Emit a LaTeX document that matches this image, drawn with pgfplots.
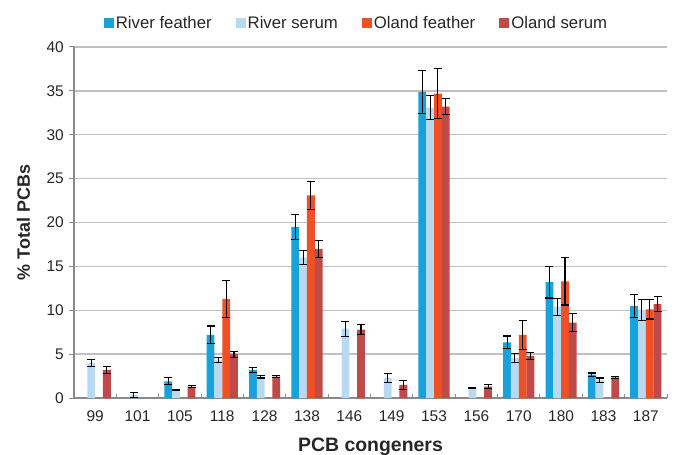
\documentclass[border=0pt]{standalone}
\usepackage{pgfplots}
\pgfplotsset{compat=1.18}
\usepackage{fontspec}
\setmainfont{Liberation Sans}
\definecolor{rf}{RGB}{23,162,220}
\definecolor{rs}{RGB}{183,218,240}
\definecolor{of}{RGB}{240,80,35}
\definecolor{os}{RGB}{192,74,72}
\definecolor{gridc}{RGB}{192,192,192}
\definecolor{axc}{RGB}{137,137,137}
\begin{document}
\begin{tikzpicture}
\begin{axis}[
  scale only axis, width=593bp, height=351bp,
  ybar=0pt, bar width=7.8bp,
  xmin=-0.5, xmax=13.5, ymin=0, ymax=40,
  xtick={0,...,13},
  xticklabels={99,101,105,118,128,138,146,149,153,156,170,180,183,187},
  minor xtick={-0.5,0.5,...,13.5},
  ytick={0,5,...,40},
  major x tick style={draw=none},
  minor tick length=4.5bp,
  minor x tick style={axc, line width=1bp, yshift=4.5bp},
  major tick length=5bp,
  tick align=outside,
  ytick style={axc, line width=1bp},
  ymajorgrids, grid style={gridc, line width=1.3bp},
  axis x line*=bottom, axis y line*=left,
  axis line style={axc, line width=1.2bp, -},
  /pgf/number format/assume math mode=true,
  tick label style={font=\fontsize{15.5}{18}\selectfont, text=black!85},
  yticklabel style={inner xsep=0pt, xshift=-5bp},
  xticklabel style={yshift=-4bp},
  xlabel={PCB congeners}, ylabel={\% Total PCBs},
  every axis x label/.style={at={([yshift=-53.5bp]axis description cs:0.5,0)}, anchor=base, font=\bfseries\fontsize{19.5}{21}\selectfont, text=black!85},
  every axis y label/.style={at={([xshift=-44bp]axis description cs:0,0.5)}, rotate=90, anchor=base, font=\bfseries\fontsize{18}{20}\selectfont, text=black!85},
  legend columns=4,
  legend style={at={([xshift=-14bp,yshift=24bp]axis description cs:0.5,1)}, anchor=center, draw=none, fill=none,
    font=\fontsize{16.8}{18}\selectfont, text=black!85,
    /tikz/every even column/.append style={column sep=22bp},
    nodes={inner xsep=2bp}},
  legend image code/.code={\fill[#1] (0bp,-5bp) rectangle (10bp,5bp);},
  error bars/error bar style={black, line width=1.1bp},
  error bars/error mark=|,
  error bars/error mark options={black, mark size=4bp, line width=1.1bp},
]
\addplot[fill=rf, draw=none, error bars/.cd, y dir=both, y explicit] coordinates {
(2,1.9) +- (0,0.4)
(3,7.2) +- (0,1.0)
(4,3.2) +- (0,0.3)
(5,19.5) +- (0,1.4)
(8,34.9) +- (0,2.45)
(10,6.35) +- (0,0.72)
(11,13.2) +- (0,1.8)
(12,2.65) +- (0,0.2)
(13,10.5) +- (0,1.3)
};
\addplot[fill=rs, draw=none, error bars/.cd, y dir=both, y explicit] coordinates {
(0,4.0) +- (0,0.42)
(1,0.35) +- (0,0.25)
(2,0.95) +- (0,0.05)
(3,4.3) +- (0,0.3)
(4,2.4) +- (0,0.12)
(5,16.0) +- (0,0.8)
(6,7.9) +- (0,0.85)
(7,2.3) +- (0,0.5)
(8,33.1) +- (0,1.4)
(9,1.15) +- (0,0.08)
(10,4.55) +- (0,0.5)
(11,10.4) +- (0,0.95)
(12,2.0) +- (0,0.28)
(13,10.0) +- (0,1.2)
};
\addplot[fill=of, draw=none, error bars/.cd, y dir=both, y explicit] coordinates {
(3,11.3) +- (0,2.1)
(5,23.1) +- (0,1.6)
(8,34.7) +- (0,2.8)
(10,7.2) +- (0,1.63)
(11,13.3) +- (0,2.7)
(13,10.1) +- (0,1.1)
};
\addplot[fill=os, draw=none, error bars/.cd, y dir=both, y explicit] coordinates {
(0,3.2) +- (0,0.38)
(2,1.3) +- (0,0.13)
(3,5.0) +- (0,0.35)
(4,2.45) +- (0,0.15)
(5,17.0) +- (0,1.0)
(6,7.8) +- (0,0.6)
(7,1.5) +- (0,0.5)
(8,33.2) +- (0,0.9)
(9,1.3) +- (0,0.25)
(10,4.8) +- (0,0.42)
(11,8.6) +- (0,1.0)
(12,2.35) +- (0,0.12)
(13,10.7) +- (0,0.87)
};
\legend{River feather, River serum, Oland feather, Oland serum}
\end{axis}
\pgfresetboundingbox
\path (-74bp,-57bp) rectangle (600bp,398bp);
\end{tikzpicture}
\end{document}
